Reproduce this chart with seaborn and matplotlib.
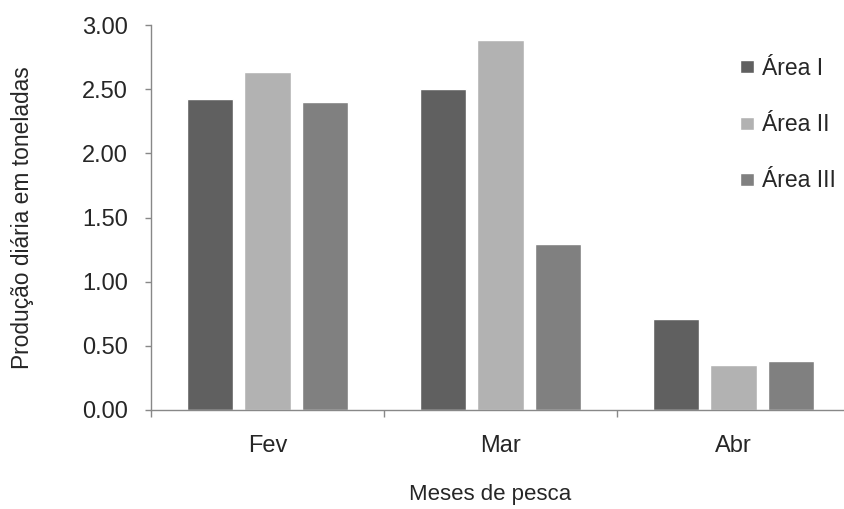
import matplotlib
matplotlib.use("Agg")
import matplotlib.pyplot as plt
import seaborn as sns
import pandas as pd
from matplotlib.ticker import FixedLocator, FormatStrFormatter

months = ["Fev", "Mar", "Abr"]
areas = ["Área I", "Área II", "Área III"]
area1 = [2.42, 2.50, 0.71]
area2 = [2.63, 2.88, 0.35]
area3 = [2.40, 1.29, 0.38]
colors = ["#606060", "#b2b2b2", "#808080"]

rows = []
for vals, a in zip([area1, area2, area3], areas):
    for m, v in zip(months, vals):
        rows.append({"Mês": m, "Área": a, "Valor": v})
df = pd.DataFrame(rows)

sns.set_style("white")
plt.rcParams['font.family'] = ['Liberation Sans', 'DejaVu Sans']

W, H = 844, 509
fig = plt.figure(figsize=(W / 100, H / 100), dpi=100)
L, R, T, B = 151, 850, 25, 410
ax = fig.add_axes([L / W, 1 - B / H, (R - L) / W, (B - T) / H])

sns.barplot(data=df, x="Mês", y="Valor", hue="Área", order=months, hue_order=areas,
            palette=colors, width=0.74, gap=0.19, ax=ax, saturation=1, legend=True)

ax.set_ylim(0, 3.0)
ax.set_xlim(-0.5, 2.5)
ax.set_yticks([0, 0.5, 1.0, 1.5, 2.0, 2.5, 3.0])
ax.yaxis.set_major_formatter(FormatStrFormatter("%.2f"))
ax.tick_params(axis='y', which='major', length=4.5, width=1, color="#888888",
               labelsize=17, direction='out', left=True, pad=12)
ax.tick_params(axis='x', which='major', length=0, labelsize=17, pad=18)
ax.xaxis.set_minor_locator(FixedLocator([-0.5, 0.5, 1.5, 2.5]))
ax.tick_params(axis='x', which='minor', length=5, width=1, color="#888888",
               direction='out', bottom=True)

for s in ["top", "right"]:
    ax.spines[s].set_visible(False)
for s in ["left", "bottom"]:
    ax.spines[s].set_color("#888888")
    ax.spines[s].set_linewidth(1)

ax.set_xlabel("Meses de pesca", fontsize=16)
ax.set_ylabel("Produção diária em toneladas", fontsize=16.4)
ax.yaxis.set_label_coords(-0.167, 0.5)
ax.xaxis.set_label_coords(0.485, -0.192)

leg = ax.legend(title=None, frameon=False, fontsize=16.5, loc="upper left",
                bbox_to_anchor=(740 / W, 1 - 57 / H), bbox_transform=fig.transFigure,
                labelspacing=1.45, handlelength=0.6, handleheight=0.5,
                handletextpad=0.35, borderaxespad=0, borderpad=0)

fig.savefig("out.png", dpi=100)
